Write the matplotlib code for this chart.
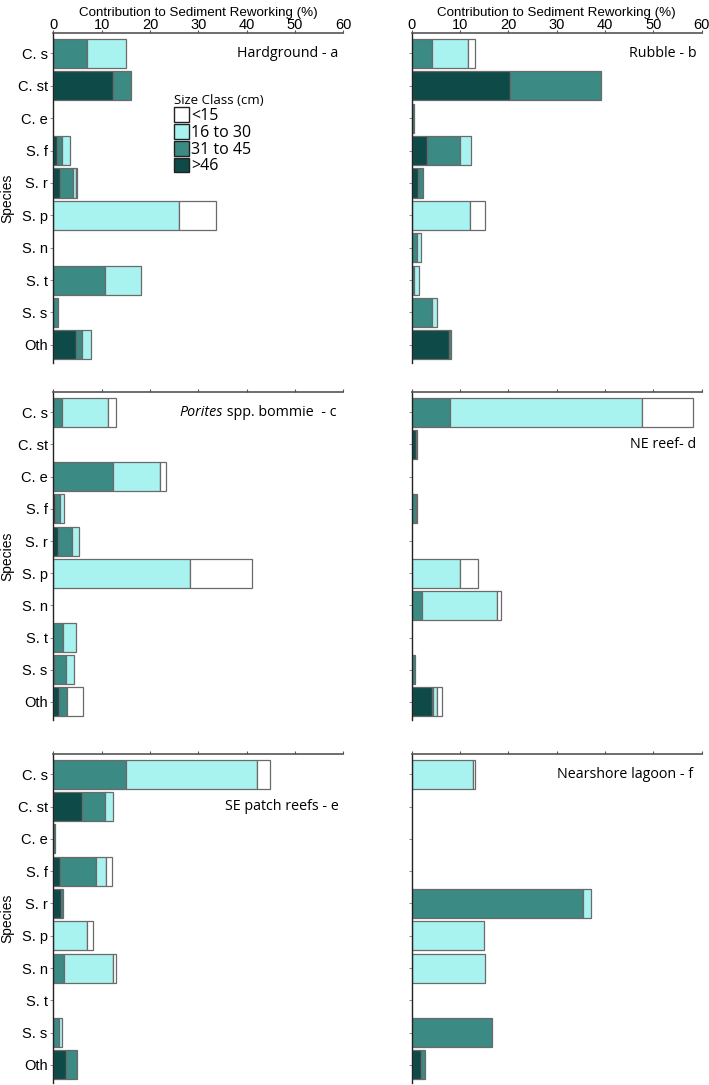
import numpy as np
import matplotlib
matplotlib.use('Agg')
import matplotlib.pyplot as plt
from matplotlib.patches import Patch

species = ['C. s', 'C. st', 'C. e', 'S. f', 'S. r', 'S. p', 'S. n', 'S. t', 'S. s', 'Oth']
size_classes = ['<15', '16 to 30', '31 to 45', '>46']
x_ticks = [0, 10, 20, 30, 40, 50, 60]

# Panel a - Hardground
a_gt46 = [0, 12.4, 0, 0.7, 1.4, 0, 0, 0, 0, 4.8]
a_31_45 = [6.9, 3.7, 0, 1.0, 2.6, 0, 0, 10.7, 1.0, 1.1]
a_16_30 = [8.1, 0, 0, 1.7, 0.6, 26.1, 0, 7.4, 0, 2.0]
a_lt15 = [0, 0, 0, 0, 0.3, 7.6, 0, 0, 0, 0]

# Panel b - Rubble
b_gt46 = [0, 20.4, 0, 3.2, 1.4, 0, 0, 0, 0, 7.7]
b_31_45 = [4.2, 18.8, 0.5, 6.8, 0.9, 0, 1.0, 0.5, 4.2, 0.4]
b_16_30 = [7.4, 0, 0, 2.3, 0, 12.1, 1.0, 1.1, 1.1, 0]
b_lt15 = [1.5, 0, 0, 0, 0, 3.1, 0, 0, 0, 0]

# Panel c - Porites spp. bommie
c_gt46 = [0, 0, 0, 0.4, 0.9, 0, 0, 0, 0.2, 1.1]
c_31_45 = [1.8, 0, 12.3, 1.0, 3.0, 0, 0, 2.0, 2.4, 1.8]
c_16_30 = [9.6, 0, 9.8, 0.9, 1.4, 28.3, 0, 2.8, 1.6, 0]
c_lt15 = [1.6, 0, 1.2, 0, 0, 12.9, 0, 0, 0, 3.2]

# Panel d - NE reef
d_gt46 = [0, 0.9, 0, 0, 0, 0, 0, 0, 0, 4.3]
d_31_45 = [7.9, 0.3, 0, 0.8, 0, 0, 2.1, 0, 0.7, 0.2]
d_16_30 = [39.7, 0, 0, 0, 0, 9.9, 15.5, 0, 0, 0.7]
d_lt15 = [10.5, 0, 0, 0.4, 0, 3.9, 0.8, 0, 0, 1.0]

# Panel e - SE patch reefs
e_gt46 = [0, 5.9, 0, 1.3, 1.6, 0, 0, 0, 0, 2.6]
e_31_45 = [15.1, 4.9, 0.3, 7.5, 0.5, 0, 2.3, 0, 1.2, 2.3]
e_16_30 = [27.0, 1.5, 0, 2.2, 0, 7.0, 10.1, 0, 0.7, 0]
e_lt15 = [2.8, 0, 0, 1.2, 0, 1.2, 0.6, 0, 0, 0]

# Panel f - Nearshore lagoon
f_gt46 = [0, 0, 0, 0, 0, 0, 0, 0, 0, 2.0]
f_31_45 = [0, 0, 0, 0, 35.4, 0, 0, 0, 16.7, 0.8]
f_16_30 = [12.6, 0, 0, 0, 1.7, 14.9, 15.2, 0, 0, 0]
f_lt15 = [0.4, 0, 0, 0, 0, 0, 0, 0, 0, 0]

colors = {'>46': '#0e4a47', '31 to 45': '#3b8a84', '16 to 30': '#a8f2f0', '<15': '#ffffff'}

LAB_FONT = 'Liberation Sans'
ANN_FONT = 'Open Sans'
plt.rcParams['font.family'] = [LAB_FONT, 'DejaVu Sans']

fig = plt.figure(figsize=(7.09, 10.85), dpi=100)
W, H = 709, 1085

def axes_at(x0, x1, y0, y1):
    return fig.add_axes([x0 / W, 1 - y1 / H, (x1 - x0) / W, (y1 - y0) / H])

rows = [(33, 363), (392, 720), (754, 1083)]
cols = [(53.3, 343.3), (411.7, 701.7)]

panels = [
    (a_gt46, a_31_45, a_16_30, a_lt15),
    (b_gt46, b_31_45, b_16_30, b_lt15),
    (c_gt46, c_31_45, c_16_30, c_lt15),
    (d_gt46, d_31_45, d_16_30, d_lt15),
    (e_gt46, e_31_45, e_16_30, e_lt15),
    (f_gt46, f_31_45, f_16_30, f_lt15),
]

axes = []
for i, segs in enumerate(panels):
    r, c = divmod(i, 2)
    ax = axes_at(cols[c][0], cols[c][1], rows[r][0], rows[r][1])
    axes.append(ax)
    y = np.arange(len(species))
    left = np.zeros(len(species))
    for vals, key in zip(segs, ['>46', '31 to 45', '16 to 30', '<15']):
        v = np.array(vals, dtype=float)
        m = v > 0
        ax.barh(y[m], v[m], left=left[m], height=0.9, color=colors[key],
                edgecolor='#6a6a6a', linewidth=0.9, zorder=2)
        left += v
    ax.set_xlim(0, 60)
    ax.set_ylim(9.56, -0.63)
    ax.xaxis.tick_top()
    ax.set_xticks(x_ticks)
    ax.spines['right'].set_visible(False)
    ax.spines['bottom'].set_visible(False)
    ax.spines['top'].set_color('#555555')
    ax.spines['top'].set_linewidth(1.2)
    ax.spines['left'].set_color('#222222')
    ax.spines['left'].set_linewidth(1.0)
    ax.tick_params(axis='x', length=2, width=0.8, colors='#555555', labelcolor='black',
                   labelsize=10.5, pad=-1.5)
    ax.tick_params(axis='y', length=2, width=0.6, colors='#777777', labelcolor='black',
                   labelsize=10.5, pad=2)
    ax.set_yticks(y)
    if c == 0:
        ax.set_yticklabels(species)
    else:
        ax.set_yticklabels([])
    if r == 0:
        ax.set_xticklabels([str(t) for t in x_ticks])
        ax.set_xlabel('Contribution to Sediment Reworking (%)', fontsize=9.6, labelpad=2)
        ax.xaxis.set_label_position('top')
    else:
        ax.set_xticklabels([])
    if c == 0:
        fig.text(7 / W, 1 - (rows[r][0] + rows[r][1]) / 2 / H, 'Species', rotation=90,
                 ha='center', va='center', fontsize=10)

ann_kw = dict(ha='right', va='center', fontsize=10.3, family=ANN_FONT)
axes[0].text(59.0, 0, 'Hardground - a', **ann_kw)
axes[1].text(59.0, 0, 'Rubble - b', **ann_kw)
t2 = axes[2].text(58.5, 0, ' spp. bommie  - c', **ann_kw)
axes[2].annotate('Porites', xy=(0, 0), xycoords=t2, ha='right', va='bottom',
                 fontsize=10.3, family=ANN_FONT, style='italic')
axes[3].text(58.8, 1, 'NE reef- d', **ann_kw)
axes[4].text(59.0, 1, 'SE patch reefs - e', **ann_kw)
axes[5].text(58.3, 0, 'Nearshore lagoon - f', **ann_kw)

handles = [Patch(facecolor=colors[k], edgecolor='#222222', linewidth=1.0) for k in size_classes]
leg = axes[0].legend(handles, size_classes, title='Size Class (cm)', loc='upper left',
                     bbox_to_anchor=(0.415, 0.815), frameon=False, handlelength=0.95,
                     handleheight=1.05, handletextpad=0.15, labelspacing=0.0,
                     borderpad=0, borderaxespad=0,
                     prop={'family': ANN_FONT, 'size': 11.5},
                     title_fontproperties={'family': ANN_FONT, 'size': 9.5},
                     alignment='left')

fig.savefig('out.png', dpi=100)
